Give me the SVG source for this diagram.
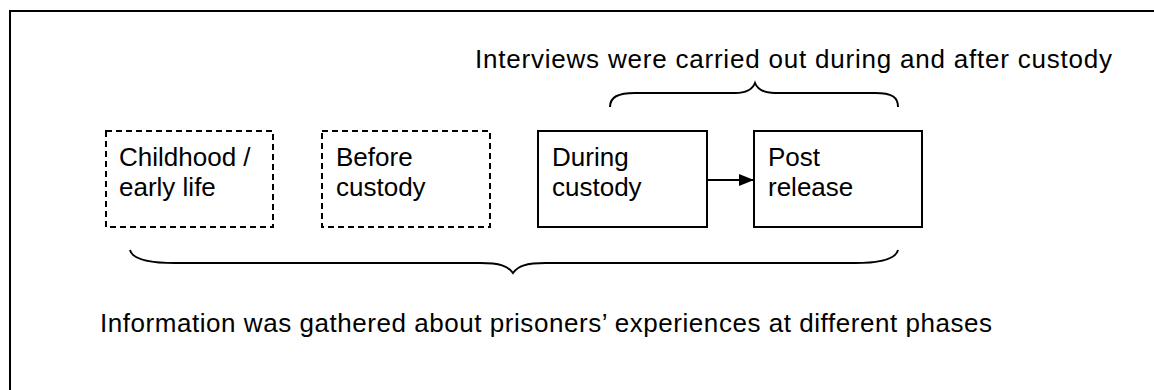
<svg xmlns="http://www.w3.org/2000/svg" width="1154" height="390" viewBox="0 0 1154 390">
<defs>
<style>
.t{font-family:"Liberation Sans",Arial,sans-serif;font-size:26px;fill:#000}
.box{fill:#fff;stroke:#000;stroke-width:2}
.dash{stroke-dasharray:6 4}
.br{fill:none;stroke:#000;stroke-width:2}
</style>
<marker id="ah" markerWidth="15" markerHeight="12" refX="15" refY="6" orient="auto" markerUnits="userSpaceOnUse" viewBox="0 0 15 12">
<path d="M0,0 L15,6 L0,12 Z" fill="#000"/>
</marker>
</defs>
<rect width="1154" height="390" fill="#fff"/>
<rect x="10" y="11" width="1160" height="400" fill="none" stroke="#000" stroke-width="2"/>
<text class="t" x="475" y="68" textLength="637" lengthAdjust="spacing">Interviews were carried out during and after custody</text>
<g id="brace-top"><path class="br" d="M610,107 C610,97 618,93 635,93 L735,93 C748,93 753,88 755,83 C757,88 762,93 775,93 L875,93 C892,93 898,97 898,107"/></g>
<g id="n1"><rect class="box dash" x="106" y="131" width="167" height="96"/><text class="t" x="119" y="166">Childhood /</text><text class="t" x="119" y="196">early life</text></g>
<g id="n2"><rect class="box dash" x="322" y="131" width="168" height="96"/><text class="t" x="336" y="166">Before</text><text class="t" x="336" y="196">custody</text></g>
<g id="n3"><rect class="box" x="538" y="131" width="169" height="96"/><text class="t" x="552" y="166">During</text><text class="t" x="552" y="196">custody</text></g>
<g id="n4"><rect class="box" x="754" y="131" width="168" height="96"/><text class="t" x="768" y="166">Post</text><text class="t" x="768" y="196">release</text></g>
<g id="connectors"><line x1="707" y1="180" x2="754" y2="180" stroke="#000" stroke-width="2" marker-end="url(#ah)"/></g>
<g id="brace-bottom"><path class="br" d="M130,250 C132,258 145,263 175,263 L480,263 C500,263 508,266 513,273 C518,266 526,263 546,263 L855,263 C885,263 896,258 898,250"/></g>
<text class="t" x="100" y="332" textLength="892" lengthAdjust="spacing">Information was gathered about prisoners’ experiences at different phases</text>
</svg>
